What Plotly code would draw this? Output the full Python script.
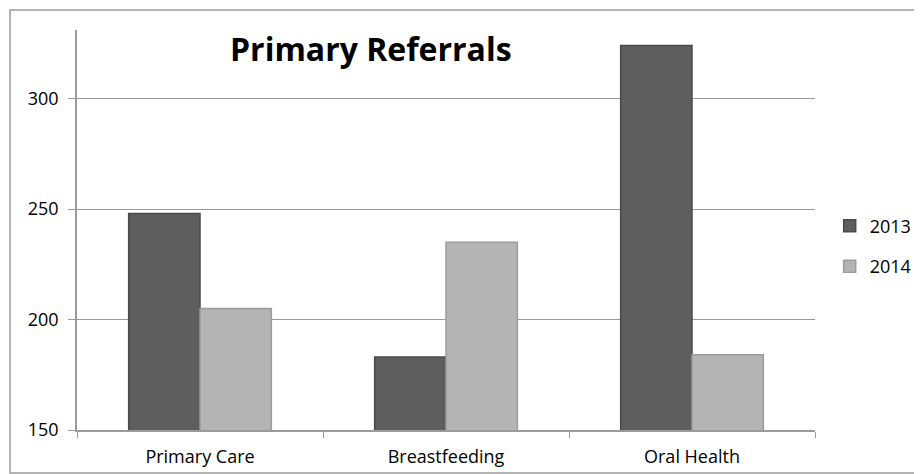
import plotly.graph_objects as go

CATEGORIES = ["Primary Care", "Breastfeeding", "Oral Health"]
SERIES_NAMES = ["2013", "2014"]
VALUES_2013 = [248, 183, 324]
VALUES_2014 = [205, 235, 184]
Y_TICKS = [150, 200, 250, 300]
TITLE = "Primary Referrals"

FONT = "Open Sans, DejaVu Sans, sans-serif"
AXIS_GREY = "#9a9a9a"


def create_referrals_figure() -> go.Figure:
    figure = go.Figure()
    styles = [
        {"fill": "#5e5e5e", "edge": "#4a4a4a"},
        {"fill": "#b4b4b4", "edge": "#9c9c9c"},
    ]
    for name, values, style in zip(SERIES_NAMES, [VALUES_2013, VALUES_2014], styles):
        figure.add_trace(
            go.Bar(
                x=CATEGORIES,
                y=values,
                name=name,
                legendgroup=name,
                marker={
                    "color": style["fill"],
                    "line": {"color": style["edge"], "width": 1.5},
                },
            )
        )

    # page body has an 8px margin, so the figure is sized a little smaller
    figure.update_layout(
        width=914,
        height=466,
        margin={"l": 69, "r": 107, "t": 22, "b": 44},
        paper_bgcolor="white",
        plot_bgcolor="white",
        barmode="group",
        bargap=0.42,
        bargroupgap=0,
        font={"family": FONT, "size": 18, "color": "#000000"},
        showlegend=True,
        legend={
            "xref": "container",
            "yref": "container",
            "x": 0.899,
            "y": 0.489,
            "xanchor": "left",
            "yanchor": "middle",
            "font": {"size": 18},
            "tracegroupgap": 14,
            "itemwidth": 30,
        },
        annotations=[
            {
                "text": f"<b>{TITLE}</b>",
                "x": 0.398,
                "y": 0.9525,
                "xref": "paper",
                "yref": "paper",
                "xanchor": "center",
                "yanchor": "middle",
                "showarrow": False,
                "font": {"family": FONT, "size": 32, "color": "#000000"},
            }
        ],
        shapes=[
            {
                "type": "rect",
                "xref": "paper",
                "yref": "paper",
                "x0": -0.0908,
                "x1": 1.1436,
                "y0": -0.1075,
                "y1": 1.05,
                "line": {"color": AXIS_GREY, "width": 1.5},
                "layer": "below",
            }
        ],
    )
    figure.update_xaxes(
        type="category",
        showline=True,
        linecolor=AXIS_GREY,
        linewidth=1.5,
        ticks="outside",
        tickson="boundaries",
        ticklen=6,
        tickcolor=AXIS_GREY,
        showgrid=False,
        tickfont={"size": 18},
        ticklabelstandoff=10,
        automargin=False,
    )
    figure.update_yaxes(
        range=[150, 331],
        tickvals=Y_TICKS,
        showline=True,
        linecolor=AXIS_GREY,
        linewidth=1.5,
        ticks="outside",
        ticklen=7,
        tickcolor=AXIS_GREY,
        showgrid=True,
        gridcolor=AXIS_GREY,
        gridwidth=1,
        zeroline=False,
        ticklabelstandoff=6,
        tickfont={"size": 18},
        automargin=False,
    )
    return figure


fig = create_referrals_figure()
fig.write_html("out.html")
